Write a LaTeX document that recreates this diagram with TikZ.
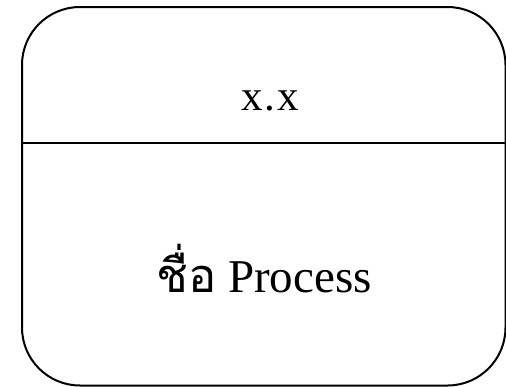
\documentclass[tikz,border=0pt]{standalone}
\usepackage{fontspec}
\setmainfont{Liberation Serif}
\newfontfamily\thaifont[Script=Thai]{Loma}
\begin{document}
\begin{tikzpicture}[x=1pt,y=-1pt,
  frame/.style={draw=black,line width=2pt,rounded corners=58pt},
  divider/.style={draw=black,line width=2pt},
  lbl/.style={anchor=base,inner sep=0pt}]
\useasboundingbox (0,0) rectangle (506,386);
\begin{scope}
\clip (0,0) rectangle (506,386);
\draw[frame] (22,7) rectangle (505.5,385.5);
\coordinate (dl) at (22,143);
\coordinate (dr) at (505.5,143);
\draw[divider] (dl) -- (dr);
\end{scope}
\node[lbl,font=\fontsize{43}{43}\selectfont] (num) at (270,110) {x\kern2pt.\kern2pt x};
\node[lbl,font=\fontsize{47}{47}\selectfont] (name) at (264,292) {{\thaifont ชื่อ} Process};
\end{tikzpicture}
\end{document}
